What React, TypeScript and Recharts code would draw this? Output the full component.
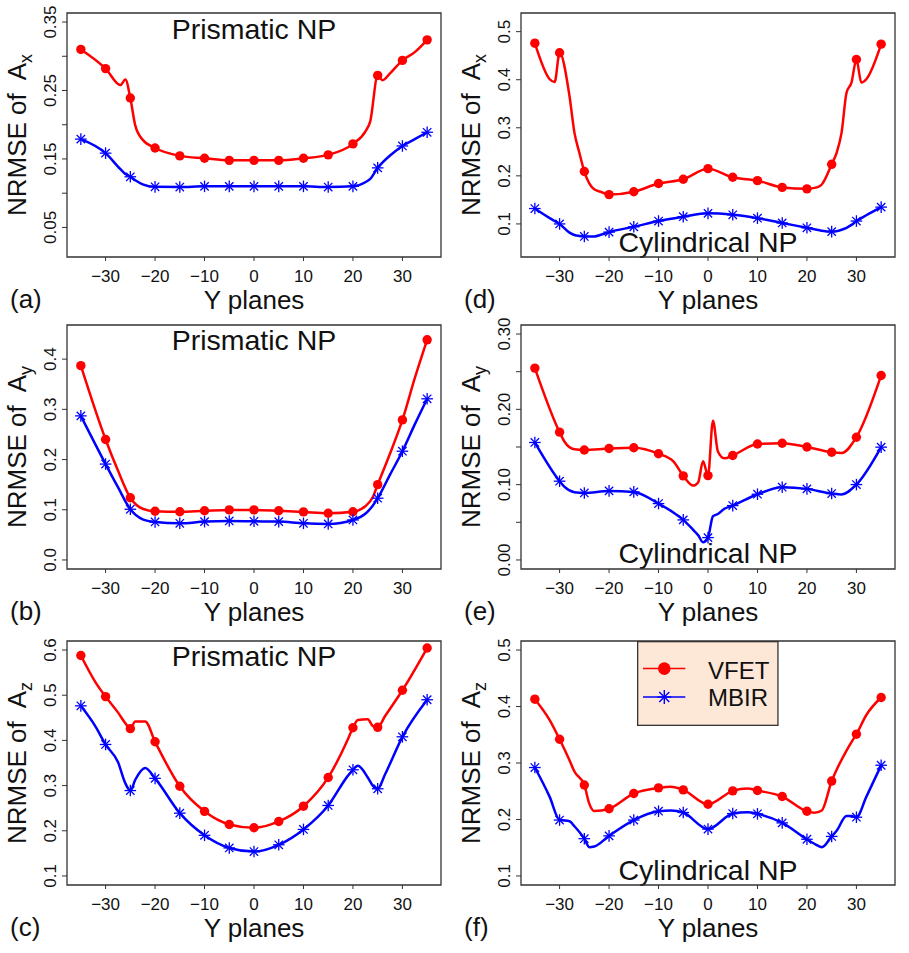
import React from "react";
import { LineChart, Line, XAxis, YAxis, ReferenceArea } from "recharts";

const FONT = '"Liberation Sans", Arial, Helvetica, sans-serif';
const RED = "#ff0000";
const BLUE = "#0000ff";
const INK = "#111";
const FRAME = "#333";

const X_MIN = -37.8;
const X_MAX = 37.8;
const planeTicks = [-30, -20, -10, 0, 10, 20, 30];

// (a) prismatic NP, A_x
const planesA = [-35, -30, -27, -26, -25, -24, -22.5, -20, -15, -10, -5, 0, 5, 10, 15, 20, 22.5, 23.5, 25, 26, 27.5, 30, 32.5, 35];
const vfetA = [0.31, 0.282, 0.258, 0.266, 0.239, 0.199, 0.178, 0.166, 0.1545, 0.151, 0.148, 0.148, 0.148, 0.151, 0.156, 0.172, 0.19, 0.205, 0.272, 0.265, 0.275, 0.294, 0.306, 0.324];
const mbirA = [0.179, 0.1585, 0.135, 0.128, 0.124, 0.119, 0.113, 0.1093, 0.109, 0.11, 0.11, 0.11, 0.11, 0.11, 0.109, 0.11, 0.116, 0.121, 0.137, 0.145, 0.155, 0.169, 0.179, 0.189];

// (b) prismatic NP, A_y
const planesB = [-35, -30, -27.5, -25, -22.5, -20, -15, -10, -5, 0, 5, 10, 15, 20, 22.5, 24, 25, 27.5, 30, 32.5, 35];
const vfetB = [0.387, 0.24, 0.178, 0.124, 0.102, 0.097, 0.096, 0.098, 0.0997, 0.0997, 0.098, 0.0957, 0.093, 0.096, 0.107, 0.125, 0.15, 0.212, 0.279, 0.362, 0.4385];
const mbirB = [0.287, 0.191, 0.145, 0.101, 0.081, 0.0757, 0.073, 0.0764, 0.0777, 0.077, 0.0764, 0.073, 0.0718, 0.0797, 0.092, 0.108, 0.123, 0.17, 0.2166, 0.27, 0.321];

// (c) prismatic NP, A_z
const planesC = [-35, -32, -30, -27.5, -26, -25, -24, -22, -20, -15, -10, -5, 0, 5, 10, 15, 19, 20, 21, 23, 24, 25, 26.5, 30, 35];
const vfetC = [0.588, 0.528, 0.497, 0.462, 0.438, 0.426, 0.442, 0.442, 0.397, 0.2985, 0.243, 0.214, 0.2066, 0.2206, 0.2544, 0.318, 0.403, 0.428, 0.445, 0.447, 0.432, 0.429, 0.454, 0.511, 0.6044];
const mbirC = [0.4765, 0.43, 0.391, 0.352, 0.305, 0.289, 0.313, 0.339, 0.316, 0.239, 0.19, 0.162, 0.154, 0.169, 0.203, 0.256, 0.322, 0.335, 0.344, 0.318, 0.3, 0.293, 0.325, 0.408, 0.49];

// (d) cylindrical NP, A_x
const planesD = [-35, -32, -31, -30, -28, -27, -26, -25, -23, -21.5, -20, -15, -10, -5, 0, 5, 10, 15, 20, 22, 23, 25, 26, 27, 28, 29, 30, 31, 32, 35];
const vfetD = [0.476, 0.401, 0.395, 0.456, 0.366, 0.29, 0.248, 0.209, 0.172, 0.166, 0.161, 0.167, 0.184, 0.193, 0.215, 0.197, 0.19, 0.176, 0.173, 0.176, 0.182, 0.224, 0.248, 0.29, 0.373, 0.394, 0.442, 0.394, 0.401, 0.474];
const mbirD = [0.132, 0.112, 0.106, 0.1, 0.082, 0.077, 0.075, 0.074, 0.074, 0.078, 0.083, 0.094, 0.106, 0.115, 0.122, 0.119, 0.112, 0.102, 0.092, 0.088, 0.086, 0.084, 0.085, 0.088, 0.092, 0.098, 0.106, 0.112, 0.118, 0.135];

// (e) cylindrical NP, A_y
const planesE = [-35, -30, -29, -27, -25, -20, -15, -10, -7, -5, -3, -2, -1, 0, 1, 2, 3.3, 5, 10, 15, 20, 25, 27, 30, 35];
const vfetE = [0.2548, 0.1697, 0.157, 0.147, 0.146, 0.148, 0.149, 0.141, 0.131, 0.1117, 0.0988, 0.103, 0.131, 0.112, 0.185, 0.144, 0.135, 0.1387, 0.154, 0.155, 0.15, 0.143, 0.142, 0.163, 0.245];
const mbirE = [0.156, 0.1046, 0.097, 0.09, 0.089, 0.0917, 0.0904, 0.0749, 0.063, 0.0532, 0.04, 0.033, 0.0235, 0.0297, 0.058, 0.061, 0.068, 0.0722, 0.0873, 0.0966, 0.0944, 0.0882, 0.087, 0.1001, 0.1498];

// (f) cylindrical NP, A_z
const planesF = [-35, -32, -30, -28, -27, -25, -24, -23, -20, -15, -10, -7.5, -5, 0, 5, 8, 10, 15, 20, 21.5, 23, 25, 26, 28, 29, 30, 32, 35];
const vfetF = [0.413, 0.376, 0.342, 0.305, 0.285, 0.261, 0.228, 0.215, 0.219, 0.246, 0.256, 0.258, 0.2524, 0.227, 0.2507, 0.255, 0.2513, 0.2406, 0.2146, 0.212, 0.216, 0.268, 0.288, 0.322, 0.337, 0.351, 0.385, 0.416];
const mbirF = [0.292, 0.24, 0.199, 0.197, 0.188, 0.166, 0.151, 0.152, 0.171, 0.199, 0.2146, 0.216, 0.2123, 0.183, 0.2105, 0.213, 0.21, 0.194, 0.165, 0.157, 0.151, 0.17, 0.18, 0.206, 0.206, 0.204, 0.24, 0.296];

type PanelSpec = {
  tag: string;
  title: string;
  titleY: number;
  comp: string;
  col: number;
  row: number;
  planes: number[];
  vfet: number[];
  mbir: number[];
  domain: [number, number];
  ticks: number[];
  labeled: number[];
  digits: number;
};

const panels: PanelSpec[] = [
  { tag: "(a)", title: "Prismatic NP", titleY: 39, comp: "x", col: 0, row: 0, planes: planesA, vfet: vfetA, mbir: mbirA, domain: [0.0068, 0.3632], ticks: [0.05, 0.1, 0.15, 0.2, 0.25, 0.3, 0.35], labeled: [0.05, 0.15, 0.25, 0.35], digits: 2 },
  { tag: "(b)", title: "Prismatic NP", titleY: 38, comp: "y", col: 0, row: 1, planes: planesB, vfet: vfetB, mbir: mbirB, domain: [-0.018, 0.468], ticks: [0, 0.1, 0.2, 0.3, 0.4], labeled: [0, 0.1, 0.2, 0.3, 0.4], digits: 1 },
  { tag: "(c)", title: "Prismatic NP", titleY: 38, comp: "z", col: 0, row: 2, planes: planesC, vfet: vfetC, mbir: mbirC, domain: [0.08, 0.62], ticks: [0.1, 0.2, 0.3, 0.4, 0.5, 0.6], labeled: [0.1, 0.2, 0.3, 0.4, 0.5, 0.6], digits: 1 },
  { tag: "(d)", title: "Cylindrical NP", titleY: 252, comp: "x", col: 1, row: 0, planes: planesD, vfet: vfetD, mbir: mbirD, domain: [0.0312, 0.5388], ticks: [0.1, 0.2, 0.3, 0.4, 0.5], labeled: [0.1, 0.2, 0.3, 0.4, 0.5], digits: 1 },
  { tag: "(e)", title: "Cylindrical NP", titleY: 251, comp: "y", col: 1, row: 1, planes: planesE, vfet: vfetE, mbir: mbirE, domain: [-0.012, 0.312], ticks: [0, 0.05, 0.1, 0.15, 0.2, 0.25, 0.3], labeled: [0, 0.1, 0.2, 0.3], digits: 2 },
  { tag: "(f)", title: "Cylindrical NP", titleY: 252, comp: "z", col: 1, row: 2, planes: planesF, vfet: vfetF, mbir: mbirF, domain: [0.084, 0.516], ticks: [0.1, 0.2, 0.3, 0.4, 0.5], labeled: [0.1, 0.2, 0.3, 0.4, 0.5], digits: 1 },
];

// panel geometry (each chart shares the same inner plot box)
const CHART_W = 450;
const CHART_H = 318;
const PLOT_LEFT = 67;
const PLOT_RIGHT = 441;
const PLOT_TOP = 13;
const PLOT_BOTTOM = 257;
const Y_AXIS_W = 40;
const X_AXIS_H = 40;
const COL_X = [0, 453.7];
const ROW_Y = [0, 312, 627.7];

const fmtPlane = (v: number) => (v < 0 ? `\u2212${Math.abs(v)}` : String(v));
const onPlane = (x: number) => Number.isInteger(x) && x % 5 === 0;

function Star({ cx, cy, r, color, width }: { cx: number; cy: number; r: number; color: string; width: number }) {
  const d = r * 0.72;
  return (
    <g stroke={color} strokeWidth={width}>
      <line x1={cx - r} y1={cy} x2={cx + r} y2={cy} />
      <line x1={cx} y1={cy - r} x2={cx} y2={cy + r} />
      <line x1={cx - d} y1={cy - d} x2={cx + d} y2={cy + d} />
      <line x1={cx - d} y1={cy + d} x2={cx + d} y2={cy - d} />
    </g>
  );
}

const vfetDot = (props: any) => {
  const { cx, cy, payload, index } = props;
  if (!onPlane(payload.x)) return <g key={`v${index}`} />;
  return <circle key={`v${index}`} cx={cx} cy={cy} r={4.7} fill={RED} />;
};

const mbirDot = (props: any) => {
  const { cx, cy, payload, index } = props;
  if (!onPlane(payload.x)) return <g key={`m${index}`} />;
  return (
    <g key={`m${index}`}>
      <Star cx={cx} cy={cy} r={5.8} color={BLUE} width={1.3} />
    </g>
  );
};

function renderYTick(t: any, p: PanelSpec) {
  const v = t.payload.value;
  if (!p.labeled.some((l) => Math.abs(l - v) < 1e-9)) return <g />;
  return (
    <text
      x={t.x}
      y={t.y}
      transform={`rotate(-90 ${t.x} ${t.y})`}
      textAnchor="middle"
      fontSize={17}
      fontFamily={FONT}
      fill={INK}
    >
      {v.toFixed(p.digits)}
    </text>
  );
}

function Panel({ p }: { p: PanelSpec }) {
  const data = p.planes.map((x, i) => ({ x, vfet: p.vfet[i], mbir: p.mbir[i] }));
  const midX = (PLOT_LEFT + PLOT_RIGHT) / 2;
  const midY = (PLOT_TOP + PLOT_BOTTOM) / 2;
  return (
    <div style={{ position: "absolute", left: COL_X[p.col], top: ROW_Y[p.row] }}>
      <LineChart
        width={CHART_W}
        height={CHART_H}
        data={data}
        margin={{
          top: PLOT_TOP,
          right: CHART_W - PLOT_RIGHT,
          bottom: CHART_H - PLOT_BOTTOM - X_AXIS_H,
          left: PLOT_LEFT - Y_AXIS_W,
        }}
      >
        <XAxis
          type="number"
          dataKey="x"
          domain={[X_MIN, X_MAX]}
          ticks={planeTicks}
          interval={0}
          height={X_AXIS_H}
          axisLine={false}
          tickLine={{ stroke: FRAME }}
          tickSize={4}
          tickMargin={9}
          tick={{ fontSize: 17, fill: INK, fontFamily: FONT }}
          tickFormatter={fmtPlane}
          allowDataOverflow
        />
        <YAxis
          type="number"
          domain={p.domain}
          ticks={p.ticks}
          interval={0}
          width={Y_AXIS_W}
          axisLine={false}
          tickLine={{ stroke: FRAME }}
          tickSize={5}
          tickMargin={6}
          tick={(t: any) => renderYTick(t, p)}
          allowDataOverflow
        />
        <ReferenceArea
          x1={X_MIN}
          x2={X_MAX}
          y1={p.domain[0]}
          y2={p.domain[1]}
          fill="none"
          stroke={FRAME}
          strokeWidth={1.3}
          fillOpacity={0}
        />
        <Line
          dataKey="vfet"
          type="monotone"
          stroke={RED}
          strokeWidth={2.5}
          dot={vfetDot}
          activeDot={false}
          isAnimationActive={false}
        />
        <Line
          dataKey="mbir"
          type="monotone"
          stroke={BLUE}
          strokeWidth={2.5}
          dot={mbirDot}
          activeDot={false}
          isAnimationActive={false}
        />
        <text x={midX} y={p.titleY} textAnchor="middle" fontSize={28.5} fontFamily={FONT} fill={INK}>
          {p.title}
        </text>
        <text x={midX} y={309} textAnchor="middle" fontSize={26} fontFamily={FONT} fill={INK}>
          Y planes
        </text>
        <text x={10} y={308} fontSize={26} fontFamily={FONT} fill={INK}>
          {p.tag}
        </text>
        <text
          transform="rotate(-90)"
          x={-midY}
          y={26}
          textAnchor="middle"
          fontSize={26}
          fontFamily={FONT}
          fill={INK}
          style={{ whiteSpace: "pre" }}
        >
          {"NRMSE of  A"}
          <tspan dy={6} fontSize={18}>
            {p.comp}
          </tspan>
        </text>
      </LineChart>
    </div>
  );
}

function LegendBox() {
  return (
    <svg style={{ position: "absolute", left: 636.7, top: 640.7 }} width={142} height={86}>
      <rect x={0.65} y={0.65} width={140.3} height={83.7} fill="#fde7d6" stroke={FRAME} strokeWidth={1.3} />
      <line x1={6} x2={48.3} y1={27.6} y2={27.6} stroke={RED} strokeWidth={1.5} />
      <circle cx={27.3} cy={27.6} r={6.3} fill={RED} />
      <text x={71} y={37.6} fontSize={24} fontFamily={FONT} fill={INK}>
        VFET
      </text>
      <line x1={6} x2={48.3} y1={56} y2={56} stroke={BLUE} strokeWidth={1.5} />
      <Star cx={27.3} cy={56} r={7} color={BLUE} width={1.4} />
      <text x={71} y={65.3} fontSize={24} fontFamily={FONT} fill={INK}>
        MBIR
      </text>
    </svg>
  );
}

export default function App() {
  return (
    <div style={{ position: "absolute", left: 0, top: 0, width: 909, height: 953, background: "#fff", overflow: "hidden" }}>
      {panels.map((p) => (
        <Panel key={p.tag} p={p} />
      ))}
      <LegendBox />
    </div>
  );
}
